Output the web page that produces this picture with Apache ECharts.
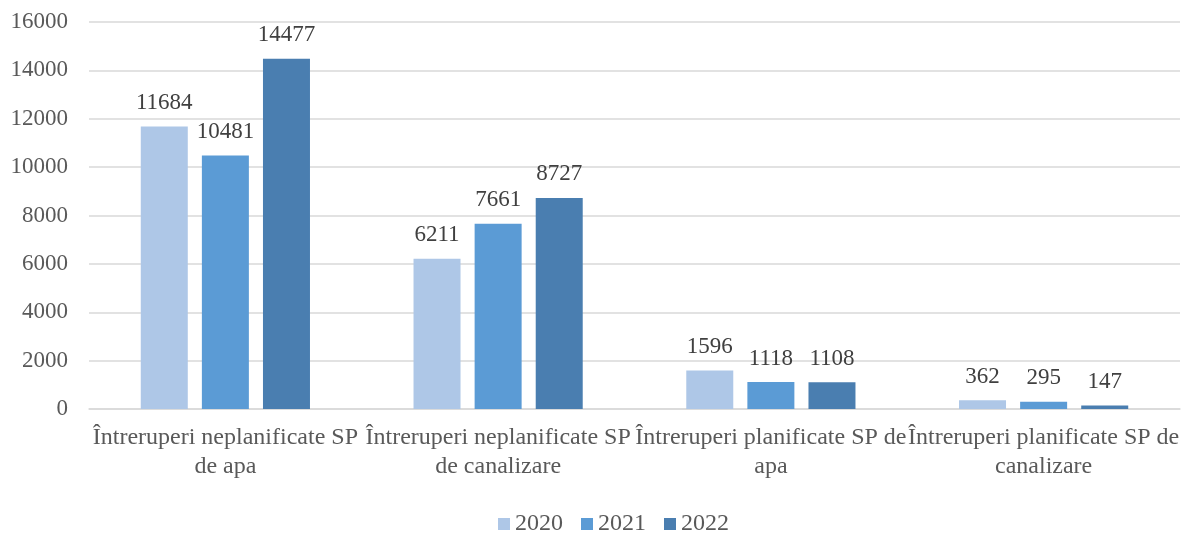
<!DOCTYPE html>
<html>
<head>
<meta charset="utf-8">
<script src="https://cdn.jsdelivr.net/npm/echarts@6/dist/echarts.min.js"></script>
<style>
  html, body { margin: 0; padding: 0; background: #fff; }
  #chart { width: 1187px; height: 533px; }
</style>
</head>
<body>
<div id="chart"></div>
<script>
// Interruption counts per category and year
const categories = [
  'Întreruperi neplanificate SP\nde apa',
  'Întreruperi neplanificate SP\nde canalizare',
  'Întreruperi planificate SP de\napa',
  'Întreruperi planificate SP de\ncanalizare'
];
const years = ['2020', '2021', '2022'];
const values2020 = [11684, 6211, 1596, 362];
const values2021 = [10481, 7661, 1118, 295];
const values2022 = [14477, 8727, 1108, 147];
const colors = ['#AEC7E7', '#5B9BD5', '#4A7EB0'];

const font = '"Liberation Serif", "Times New Roman", serif';
const seriesData = [values2020, values2021, values2022];

const chart = echarts.init(document.getElementById('chart'));
chart.setOption({
  animation: false,
  textStyle: { fontFamily: font },
  grid: { left: 89, right: 7, top: 22, bottom: 124, containLabel: false },
  legend: {
    left: 498,
    top: 512,
    padding: 0,
    itemWidth: 12,
    itemHeight: 12,
    itemGap: 18,
    icon: 'rect',
    textStyle: { fontFamily: font, fontSize: 24, color: '#595959' },
    data: years
  },
  xAxis: {
    type: 'category',
    data: categories,
    axisLine: { lineStyle: { color: '#D9D9D9', width: 1.5 } },
    axisTick: { show: false },
    axisLabel: {
      fontFamily: font, fontSize: 24, color: '#595959',
      lineHeight: 29, margin: 14, interval: 0
    }
  },
  yAxis: {
    type: 'value',
    min: 0, max: 16000, interval: 2000,
    axisLine: { show: false },
    axisTick: { show: false },
    splitLine: { lineStyle: { color: '#D9D9D9', width: 1.5 } },
    axisLabel: {
      fontFamily: font, fontSize: 23, color: '#595959', margin: 21,
      formatter: v => String(v)
    }
  },
  series: years.map((y, i) => ({
    name: y,
    type: 'bar',
    data: seriesData[i],
    barWidth: 47,
    barGap: '30%',
    itemStyle: { color: colors[i] },
    label: {
      show: true, position: 'top', distance: 12,
      fontFamily: font, fontSize: 23, color: '#404040'
    }
  }))
});
</script>
</body>
</html>
